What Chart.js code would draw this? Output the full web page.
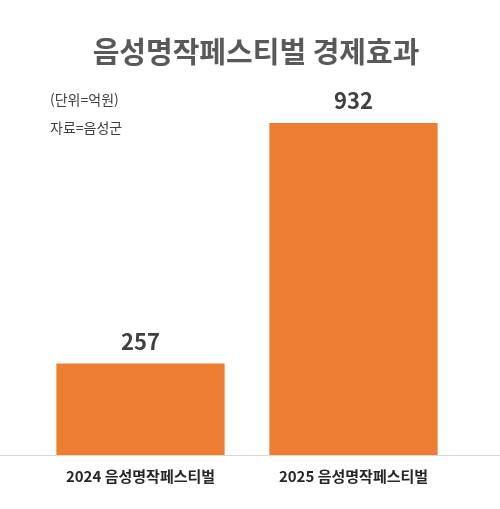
<!DOCTYPE html>
<html lang="ko">
<head>
<meta charset="UTF-8"/>
<script src="https://cdn.jsdelivr.net/npm/chart.js"></script>
<style>body{margin:0;background:#fff}</style>
</head>
<body>
<div style="width:500px;height:509px;"><canvas id="festChart"></canvas></div>
<script>
const categories = ['2024 음성명작페스티벌', '2025 음성명작페스티벌'];
const values = [257, 932];
const title = '음성명작페스티벌 경제효과';
const notes = ['(단위=억원)', '자료=음성군'];
const font = "'Noto Sans CJK KR', 'Noto Sans', sans-serif";

const decor = {
    id: 'decor',
    afterDraw(chart) {
        const c = chart.ctx;
        const y = chart.scales.y;
        c.save();
        c.strokeStyle = '#d9d9d9';
        c.lineWidth = 1;
        c.beginPath();
        c.moveTo(0, y.bottom + 0.5);
        c.lineTo(500, y.bottom + 0.5);
        c.stroke();
        c.fillStyle = '#595959';
        c.font = `bold 29px ${font}`;
        c.textAlign = 'center';
        c.textBaseline = 'middle';
        c.fillText(title, 256, 52);
        c.fillStyle = '#404040';
        c.font = `14px ${font}`;
        c.textAlign = 'left';
        c.fillText(notes[0], 50, 100);
        c.fillText(notes[1], 50, 128);
        c.font = `bold 22px ${font}`;
        c.textAlign = 'center';
        chart.getDatasetMeta(0).data.forEach((bar, i) => {
            c.fillText(String(values[i]), bar.x, bar.y - 22);
        });
        c.restore();
    }
};

new Chart(document.getElementById('festChart'), {
    type: 'bar',
    data: {
        labels: categories,
        datasets: [{data: values, backgroundColor: '#ed7d31', barPercentage: 0.79, categoryPercentage: 1}]
    },
    options: {
        responsive: true,
        maintainAspectRatio: false,
        animation: false,
        layout: {padding: {top: 123, left: 34, right: 40, bottom: 0}},
        plugins: {legend: {display: false}, tooltip: {enabled: false}},
        scales: {
            x: {
                grid: {display: false, drawTicks: false},
                border: {display: false},
                ticks: {color: '#262626', font: {family: font, size: 15, weight: 'bold'}, padding: 12},
                afterFit(s) { s.height = 54; }
            },
            y: {display: false, min: 0, max: 932}
        }
    },
    plugins: [decor]
});
</script>
</body>
</html>
